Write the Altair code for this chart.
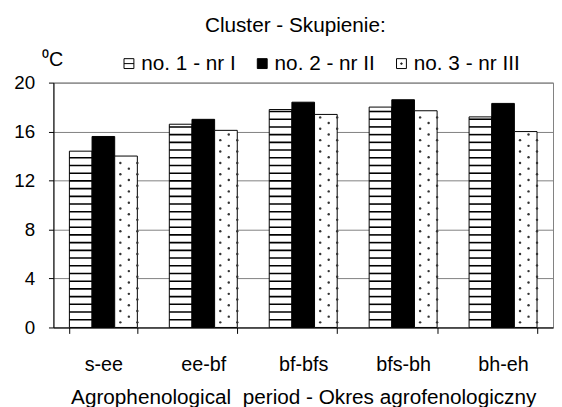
import altair as alt
import numpy as np
import pandas as pd

# ---- data ----
periods = ["s-ee", "ee-bf", "bf-bfs", "bfs-bh", "bh-eh"]
series = ["no. 1 - nr I", "no. 2 - nr II", "no. 3 - nr III"]
cluster1 = [14.4, 16.6, 17.8, 18.0, 17.2]
cluster2 = [15.6, 17.0, 18.4, 18.6, 18.3]
cluster3 = [14.0, 16.1, 17.4, 17.7, 16.0]
y_ticks = [0, 4, 8, 12, 16, 20]

# ---- pattern (texture) parameters, in axis units ----
STRIPE_STEP = 0.63
STRIPE_HALF = 0.065
DOT_STEP = 0.93
SUBCOLS = ["a1", "a2", "a3", "b1", "b2", "b3", "c1", "c2", "c3"]

FONT = "Liberation Sans"

rows = []
for i, p in enumerate(periods):
    for s, vals in zip(series, [cluster1, cluster2, cluster3]):
        rows.append({"period": p, "series": s, "value": vals[i], "half": cluster2[i] / 2})
df = pd.DataFrame(rows)

stripe_rows = []
for p, v in zip(periods, cluster1):
    for lvl in np.arange(STRIPE_STEP, v - 0.15, STRIPE_STEP):
        stripe_rows.append({"period": p, "series": series[0],
                            "lo": lvl - STRIPE_HALF, "hi": lvl + STRIPE_HALF})
stripes = pd.DataFrame(stripe_rows)

dot_rows = []
for p, v in zip(periods, cluster3):
    for lvl in np.arange(DOT_STEP * 0.45, v - 0.15, DOT_STEP):
        dot_rows.append({"period": p, "sub": "c1", "lvl": lvl})
        dot_rows.append({"period": p, "sub": "c3", "lvl": lvl})
    for lvl in np.arange(DOT_STEP * 0.95, v - 0.15, DOT_STEP):
        dot_rows.append({"period": p, "sub": "c2", "lvl": lvl})
dots = pd.DataFrame(dot_rows)

x_enc = alt.X("period:N", sort=periods,
              scale=alt.Scale(domain=periods, paddingInner=0.32, paddingOuter=0.16),
              axis=alt.Axis(title="Agrophenological\u00a0 period - Okres agrofenologiczny",
                            labelAngle=0, tickBand="extent", grid=False,
                            tickSize=6, labelPadding=22, titlePadding=12,
                            labelFontSize=20, titleFontSize=21))
xo_enc = alt.XOffset("series:N", sort=series,
                     scale=alt.Scale(domain=series, paddingInner=0, paddingOuter=0))
y_axis = alt.Axis(values=y_ticks, title="⁰C", titleAngle=0, titleAlign="left",
                  titleBaseline="alphabetic", titleX=-12, titleY=-17,
                  tickSize=5, labelPadding=14, labelFontSize=19, titleFontSize=20,
                  grid=True)
y_scale = alt.Scale(domain=[0, 20], nice=False, zero=True)

fill_scale = alt.Scale(domain=series, range=["white", "black", "white"])
stroke_scale = alt.Scale(domain=series, range=["black", "black", "black"])
shape_scale = alt.Scale(domain=series, range=[
    "M-1,-1L1,-1L1,1L-1,1Z M-1,0L1,0",
    "square",
    "M-1,-1L1,-1L1,1L-1,1Z M-0.12,-0.12L0.12,-0.12L0.12,0.12L-0.12,0.12Z",
])

# legend proxy: symbols sit hidden inside the (middle, black) bars
legend_proxy = alt.Chart(df).mark_point(filled=True, size=100, strokeWidth=1,
                                        opacity=1).encode(
    x=x_enc,
    y=alt.Y("half:Q", scale=y_scale, axis=y_axis),
    fill=alt.Fill("series:N", scale=fill_scale, sort=series, title=None),
    stroke=alt.Stroke("series:N", scale=stroke_scale, sort=series, title=None),
    shape=alt.Shape("series:N", scale=shape_scale, sort=series, title=None),
)

bars = alt.Chart(df).mark_bar(stroke="black", strokeWidth=1).encode(
    x=x_enc, xOffset=xo_enc,
    y=alt.Y("value:Q", scale=y_scale, axis=y_axis),
    fill=alt.Fill("series:N", scale=fill_scale, sort=series, title=None),
)

stripe_layer = alt.Chart(stripes).mark_bar(color="black", strokeWidth=0).encode(
    x=x_enc, xOffset=xo_enc,
    y=alt.Y("lo:Q", scale=y_scale, axis=y_axis),
    y2="hi:Q",
)

dot_layer = alt.Chart(dots).mark_circle(size=6, color="#333333", opacity=1).encode(
    x=x_enc,
    xOffset=alt.XOffset("sub:N", sort=SUBCOLS,
                        scale=alt.Scale(domain=SUBCOLS, paddingInner=0, paddingOuter=0)),
    y=alt.Y("lvl:Q", scale=y_scale, axis=y_axis),
)

chart = alt.layer(
    legend_proxy, bars, stripe_layer, dot_layer,
).resolve_scale(
    xOffset="independent"
).properties(
    width=506, height=248,
    title=alt.TitleParams("Cluster - Skupienie:", fontSize=21, font=FONT,
                          fontWeight="normal", anchor="middle", dx=-8, dy=-10,
                          color="black"),
    autosize=alt.AutoSizeParams(type="none"),
    padding={"left": 46, "top": 73, "right": 1, "bottom": 78},
).configure_view(
    stroke="#808080", strokeWidth=1
).configure_axis(
    labelFont=FONT, titleFont=FONT, labelColor="black", titleColor="black",
    titleFontWeight="normal", domainColor="black", tickColor="black",
    gridColor="#808080", gridWidth=1,
).configure_legend(
    orient="none", legendX=66, legendY=-30, direction="horizontal",
    labelFont=FONT, labelFontSize=21, labelColor="black",
    symbolSize=100, symbolStrokeWidth=1,
    labelOffset=2, columnPadding=16, labelLimit=300,
)

chart.save("out.html", embed_options={"renderer": "svg", "actions": False})
